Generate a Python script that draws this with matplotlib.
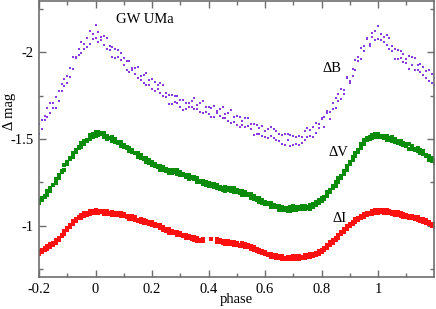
import matplotlib
matplotlib.use("Agg")
import matplotlib.pyplot as plt
import numpy as np
from matplotlib.ticker import MultipleLocator, FuncFormatter

plt.rcParams['font.family'] = ['Liberation Serif', 'DejaVu Serif']
plt.rcParams['axes.unicode_minus'] = False

nan = np.nan

# orbital phase of the observations
phase = [
    -0.20, -0.19, -0.18, -0.17, -0.16, -0.15, -0.14, -0.13, -0.12, -0.11,
    -0.10, -0.09, -0.08, -0.07, -0.06, -0.05, -0.04, -0.03, -0.02, -0.01,
    0.00, 0.01, 0.02, 0.03, 0.04, 0.05, 0.06, 0.07, 0.08, 0.09,
    0.10, 0.11, 0.12, 0.13, 0.14, 0.15, 0.16, 0.17, 0.18, 0.19,
    0.20, 0.21, 0.22, 0.23, 0.24, 0.25, 0.26, 0.27, 0.28, 0.29,
    0.30, 0.31, 0.32, 0.33, 0.34, 0.35, 0.36, 0.37, 0.38, 0.39,
    0.40, 0.41, 0.42, 0.43, 0.44, 0.45, 0.46, 0.47, 0.48, 0.49,
    0.50, 0.51, 0.52, 0.53, 0.54, 0.55, 0.56, 0.57, 0.58, 0.59,
    0.60, 0.61, 0.62, 0.63, 0.64, 0.65, 0.66, 0.67, 0.68, 0.69,
    0.70, 0.71, 0.72, 0.73, 0.74, 0.75, 0.76, 0.77, 0.78, 0.79,
    0.80, 0.81, 0.82, 0.83, 0.84, 0.85, 0.86, 0.87, 0.88, 0.89,
    0.90, 0.91, 0.92, 0.93, 0.94, 0.95, 0.96, 0.97, 0.98, 0.99,
    1.00, 1.01, 1.02, 1.03, 1.04, 1.05, 1.06, 1.07, 1.08, 1.09,
    1.10, 1.11, 1.12, 1.13, 1.14, 1.15, 1.16, 1.17, 1.18, 1.19,
    1.20,
]

# B band, two sets of points
dB_1 = [
    -1.530, -1.610, -1.610, -1.680, -1.650, -1.705, -1.680, -1.775, -1.775, -1.845,
    -1.825, -1.910, -1.905, -1.975, -1.985, -2.060, -2.020, -2.080, -2.050, -2.105,
    -2.080, -2.115, -2.070, -2.095, -2.020, -2.035, -1.970, -2.020, -1.975, -1.995,
    -1.925, -1.950, -1.885, -1.910, -1.875, -1.915, -1.840, -1.870, -1.810, -1.840,
    -1.790, -1.830, -1.790, -1.820, -1.750, -1.765, -1.700, -1.755, -1.715, -1.745,
    -1.685, -1.723, -1.670, -1.707, -1.685, -1.735, -1.670, -1.705, -1.650, -1.685,
    -1.645, -1.680, -1.625, -1.660, -1.635, -1.685, -1.620, -1.652, -1.595, -1.628,
    -1.580, -1.627, -1.580, -1.623, -1.575, -1.587, -1.525, -1.578, -1.530, -1.575,
    -1.510, -1.555, -1.520, -1.560, -1.495, -1.530, -1.470, -1.530, -1.495, -1.525,
    -1.465, -1.510, -1.465, -1.510, -1.495, -1.562, -1.515, -1.570, -1.535, -1.588,
    -1.620, -1.625, -1.650, -1.655, -1.705, -1.680, -1.760, -1.730, -1.785, -1.850,
    -1.825, -1.905, -1.895, -1.975, -1.960, -2.035, -2.080, -2.035, -2.085, -2.120,
    -2.075, -2.105, -2.060, -2.100, -2.020, -2.035, -1.960, -2.010, -1.965, -1.990,
    -1.940, -1.980, -1.925, -1.965, -1.895, -1.930, -1.870, -1.890, -1.835, -1.875,
    -1.810,
]
dB_2 = [
    -1.585, -1.555, -1.630, -1.625, -1.710, -1.680, -1.740, -1.720, -1.815, -1.805,
    -1.865, -1.855, -1.970, -1.965, -2.020, -1.995, -2.045, -2.030, -2.120, -2.075,
    -2.155, -2.060, -2.090, -2.040, -2.080, -2.010, -2.030, -1.965, -2.015, -1.955,
    -1.965, -1.895, -1.950, -1.900, -1.910, -1.850, -1.865, -1.820, -1.880, -1.810,
    -1.845, -1.775, -1.810, -1.765, -1.810, -1.740, -1.755, -1.700, -1.750, -1.705,
    -1.725, -1.668, -1.710, -1.682, -1.720, -1.670, -1.695, -1.655, -1.720, -1.655,
    -1.685, -1.625, -1.690, -1.650, -1.670, -1.620, -1.645, -1.602, -1.665, -1.598,
    -1.635, -1.567, -1.605, -1.568, -1.620, -1.557, -1.585, -1.528, -1.565, -1.520,
    -1.545, -1.505, -1.570, -1.505, -1.545, -1.490, -1.525, -1.465, -1.530, -1.460,
    -1.515, -1.470, -1.520, -1.475, -1.545, -1.512, -1.550, -1.510, -1.595, -1.563,
    -1.615, -1.570, -1.660, -1.615, -1.675, -1.735, -1.720, -1.790, -1.760, -1.855,
    -1.835, -1.865, -1.955, -1.950, -2.025, -2.005, -2.075, -2.045, -2.110, -2.070,
    -2.150, -2.070, -2.090, -2.040, -2.080, -2.005, -2.020, -1.960, -2.005, -1.945,
    -1.960, -1.905, -1.975, -1.900, -1.925, -1.885, -1.915, -1.850, -1.900, -1.825,
    -1.850,
]

# V band
dV_1 = [
    -1.130, -1.161, -1.166, -1.202, -1.202, -1.237, -1.247, -1.294, -1.309, -1.349,
    -1.354, -1.389, -1.399, -1.437, -1.447, -1.476, -1.471, -1.496, -1.498, -1.528,
    -1.520, -1.538, -1.526, -1.532, -1.502, -1.507, -1.487, -1.499, -1.479, -1.484,
    -1.454, -1.454, -1.429, -1.437, -1.417, -1.421, -1.391, -1.391, -1.368, -1.378,
    -1.350, -1.356, -1.336, -1.347, -1.322, -1.327, -1.307, -1.324, -1.309, -1.319,
    -1.294, -1.299, -1.279, -1.290, -1.273, -1.281, -1.255, -1.259, -1.240, -1.254,
    -1.230, -1.241, -1.226, -1.237, -1.212, -1.220, -1.202, -1.217, -1.202, -1.216,
    -1.194, -1.199, -1.179, -1.192, -1.177, -1.183, -1.156, -1.159, -1.138, -1.150,
    -1.125, -1.132, -1.109, -1.122, -1.107, -1.116, -1.091, -1.101, -1.088, -1.108,
    -1.090, -1.106, -1.096, -1.114, -1.097, -1.110, -1.097, -1.125, -1.121, -1.149,
    -1.144, -1.167, -1.169, -1.207, -1.217, -1.251, -1.251, -1.286, -1.298, -1.342,
    -1.357, -1.396, -1.401, -1.436, -1.449, -1.494, -1.494, -1.512, -1.504, -1.526,
    -1.512, -1.519, -1.503, -1.515, -1.497, -1.509, -1.484, -1.489, -1.469, -1.479,
    -1.462, -1.469, -1.442, -1.443, -1.429, -1.439, -1.411, -1.406, -1.378, -1.388,
    -1.360,
]
dV_2 = [
    -1.149, -1.148, -1.173, -1.179, -1.216, -1.233, -1.272, -1.277, -1.314, -1.322,
    -1.365, -1.382, -1.420, -1.424, -1.452, -1.453, -1.488, -1.491, -1.523, -1.511,
    -1.539, -1.525, -1.533, -1.509, -1.516, -1.503, -1.512, -1.482, -1.484, -1.457,
    -1.465, -1.447, -1.450, -1.424, -1.422, -1.398, -1.408, -1.386, -1.393, -1.361,
    -1.369, -1.343, -1.343, -1.323, -1.336, -1.318, -1.322, -1.305, -1.322, -1.297,
    -1.308, -1.291, -1.293, -1.271, -1.282, -1.268, -1.276, -1.250, -1.256, -1.233,
    -1.245, -1.232, -1.240, -1.219, -1.222, -1.206, -1.223, -1.206, -1.218, -1.193,
    -1.209, -1.187, -1.200, -1.179, -1.182, -1.160, -1.171, -1.150, -1.162, -1.133,
    -1.139, -1.125, -1.130, -1.109, -1.112, -1.093, -1.108, -1.092, -1.104, -1.087,
    -1.112, -1.091, -1.106, -1.098, -1.115, -1.102, -1.122, -1.110, -1.135, -1.132,
    -1.162, -1.157, -1.193, -1.192, -1.228, -1.229, -1.273, -1.277, -1.314, -1.322,
    -1.368, -1.381, -1.422, -1.427, -1.473, -1.471, -1.506, -1.500, -1.525, -1.510,
    -1.531, -1.512, -1.519, -1.496, -1.508, -1.491, -1.500, -1.476, -1.488, -1.468,
    -1.471, -1.445, -1.458, -1.438, -1.447, -1.419, -1.428, -1.401, -1.403, -1.371,
    -1.379,
]

# I band (no data around phase 0.4)
dI_1 = [
    -0.837, -0.861, -0.862, -0.885, -0.878, -0.899, -0.900, -0.932, -0.939, -0.972,
    -0.975, -1.003, -1.011, -1.039, -1.043, -1.064, -1.058, -1.071, -1.066, -1.085,
    -1.072, -1.086, -1.077, -1.088, -1.069, -1.074, -1.060, -1.076, -1.064, -1.073,
    -1.055, -1.058, -1.042, -1.055, -1.034, -1.036, -1.021, -1.031, -1.017, -1.024,
    -1.002, -1.010, -0.997, -1.002, -0.978, -0.979, -0.960, -0.971, -0.958, -0.965,
    -0.946, -0.949, -0.931, -0.943, -0.925, -0.935, -0.914, -0.920, -0.911, nan,
    nan, -0.925, nan, -0.922, -0.905, -0.912, -0.897, -0.911, -0.897, -0.907,
    -0.887, -0.891, -0.881, -0.893, -0.878, -0.883, -0.862, -0.865, -0.848, -0.857,
    -0.837, -0.839, -0.823, -0.833, -0.817, -0.828, -0.809, -0.815, -0.806, -0.822,
    -0.811, -0.827, -0.811, -0.822, -0.817, -0.833, -0.821, -0.836, -0.830, -0.855,
    -0.848, -0.870, -0.871, -0.907, -0.903, -0.928, -0.932, -0.964, -0.966, -0.999,
    -0.997, -1.024, -1.021, -1.043, -1.045, -1.067, -1.061, -1.074, -1.070, -1.089,
    -1.075, -1.090, -1.076, -1.093, -1.072, -1.079, -1.064, -1.078, -1.055, -1.066,
    -1.048, -1.058, -1.043, -1.052, -1.031, -1.039, -1.022, -1.031, -1.009, -1.012,
    -0.992,
]
dI_2 = [
    -0.852, -0.849, -0.871, -0.866, -0.893, -0.892, -0.920, -0.918, -0.946, -0.951,
    -0.986, -0.993, -1.030, -1.026, -1.053, -1.047, -1.075, -1.062, -1.083, -1.071,
    -1.091, -1.073, -1.088, -1.070, -1.083, -1.066, -1.079, -1.061, -1.072, -1.054,
    -1.068, -1.049, -1.057, -1.037, -1.049, -1.029, -1.037, -1.017, -1.028, -1.008,
    -1.019, -0.998, -1.007, -0.985, -0.994, -0.970, -0.979, -0.958, -0.967, -0.948,
    -0.961, -0.940, -0.948, -0.927, -0.938, -0.920, -0.931, -0.913, -0.925, nan,
    nan, nan, nan, -0.908, -0.920, -0.902, -0.913, -0.895, -0.908, -0.890,
    -0.903, -0.884, -0.898, -0.879, -0.889, -0.869, -0.878, -0.855, -0.863, -0.842,
    -0.851, -0.831, -0.840, -0.820, -0.830, -0.813, -0.825, -0.809, -0.823, -0.809,
    -0.826, -0.811, -0.828, -0.814, -0.830, -0.818, -0.836, -0.826, -0.846, -0.839,
    -0.863, -0.860, -0.888, -0.888, -0.918, -0.918, -0.948, -0.951, -0.983, -0.983,
    -1.013, -1.011, -1.038, -1.033, -1.058, -1.052, -1.076, -1.066, -1.086, -1.074,
    -1.091, -1.077, -1.093, -1.076, -1.088, -1.069, -1.080, -1.061, -1.071, -1.053,
    -1.065, -1.046, -1.058, -1.038, -1.048, -1.028, -1.038, -1.015, -1.023, -1.001,
    -1.008,
]

fig = plt.figure(figsize=(4.36, 3.09), dpi=100)
ax = fig.add_axes([39 / 436, 1 - 277 / 309, 395 / 436, 276 / 309])

purple = '#8a3be0'
green = '#0a8c0a'
red = '#ff1010'
for ys in (dB_1, dB_2):
    ax.plot(phase, ys, 's', color=purple, ms=1.8, mew=0, linestyle='none')
for ys in (dV_1, dV_2):
    ax.plot(phase, ys, 's', color=green, ms=2.8, mew=0, linestyle='none')
for ys in (dI_1, dI_2):
    ax.plot(phase, ys, 's', color=red, ms=2.7, mew=0, linestyle='none')

ax.set_xlim(-0.2, 1.198)
ax.set_ylim(-0.705, -2.295)

ax.xaxis.set_major_locator(MultipleLocator(0.2))
ax.xaxis.set_minor_locator(MultipleLocator(0.1))
ax.yaxis.set_major_locator(MultipleLocator(0.5))
ax.yaxis.set_minor_locator(MultipleLocator(0.25))
fmt = FuncFormatter(lambda v, p: '%g' % round(v, 2))
ax.xaxis.set_major_formatter(fmt)
ax.yaxis.set_major_formatter(fmt)

frame = '#6e6e6e'
for s in ax.spines.values():
    s.set_color(frame)
    s.set_linewidth(1.2)
ax.tick_params(which='both', direction='in', top=True, right=True,
               color=frame, width=1.0, labelsize=10.5, labelcolor='black')
ax.tick_params(which='major', length=5, pad=4)
ax.tick_params(which='minor', length=3)

ax.text(0.074, -2.19, 'GW UMa', fontsize=10.5, va='center', ha='left')
ax.text(0.805, -1.905, 'ΔB', fontsize=10.5, va='center', ha='left')
ax.text(0.823, -1.42, 'ΔV', fontsize=10.5, va='center', ha='left')
ax.text(0.837, -1.04, 'ΔI', fontsize=10.5, va='center', ha='left')

fig.text(236 / 436, 1 - 300 / 309, 'phase', fontsize=10.5, ha='center', va='center')
fig.text(9 / 436, 1 - 111 / 309, 'Δ mag', fontsize=10.5, ha='center', va='center',
         rotation=90)

fig.savefig('out.png', dpi=100)
